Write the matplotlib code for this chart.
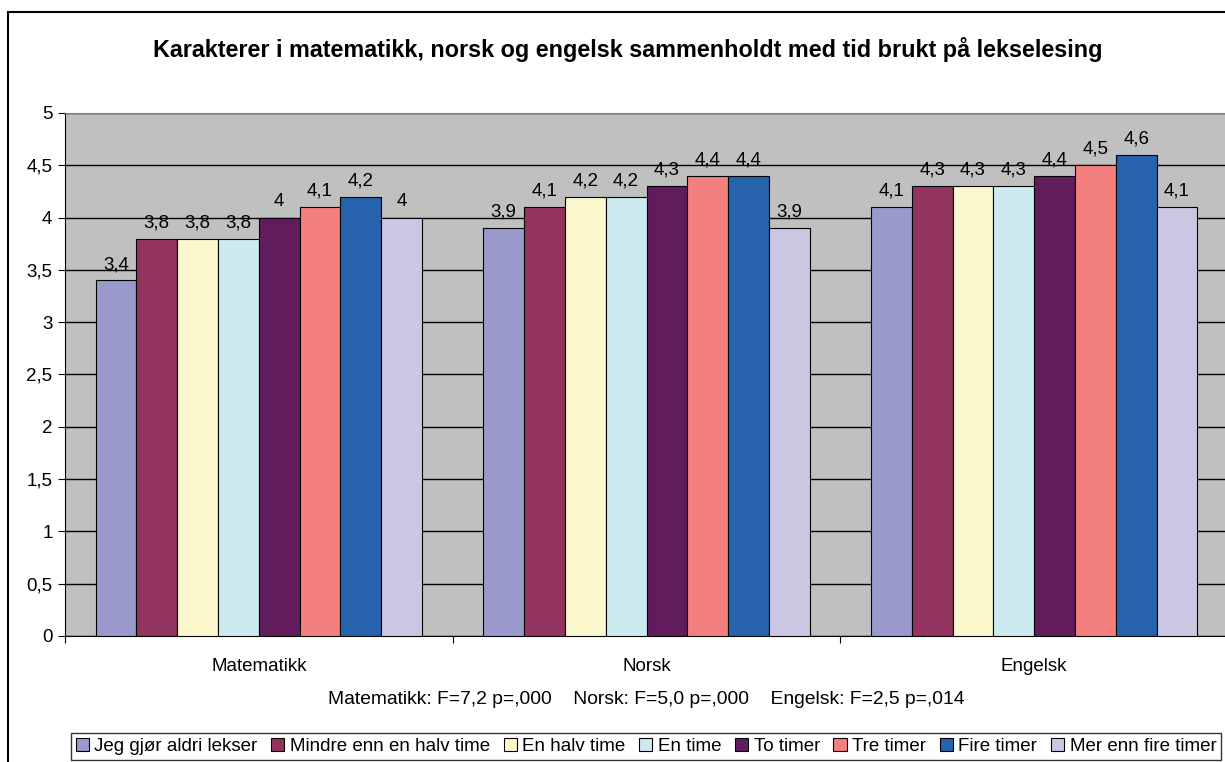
import numpy as np
import matplotlib
matplotlib.use('Agg')
import matplotlib.pyplot as plt
from matplotlib.patches import Rectangle

plt.rcParams['font.family'] = ['Liberation Sans', 'DejaVu Sans']

subjects = ['Matematikk', 'Norsk', 'Engelsk']
series = ['Jeg gjør aldri lekser', 'Mindre enn en halv time', 'En halv time',
          'En time', 'To timer', 'Tre timer', 'Fire timer', 'Mer enn fire timer']
values = [
    [3.4, 3.9, 4.1],
    [3.8, 4.1, 4.3],
    [3.8, 4.2, 4.3],
    [3.8, 4.2, 4.3],
    [4.0, 4.3, 4.4],
    [4.1, 4.4, 4.5],
    [4.2, 4.4, 4.6],
    [4.0, 3.9, 4.1],
]
colors = ['#9999CC', '#933360', '#FAF8CC', '#CDEAF0',
          '#611C5E', '#F47F7F', '#2762AD', '#CBC7E3']
title = 'Karakterer i matematikk, norsk og engelsk sammenholdt med tid brukt på lekselesing'
stats = 'Matematikk: F=7,2 p=,000    Norsk: F=5,0 p=,000    Engelsk: F=2,5 p=,014'
yticks = [0, 0.5, 1, 1.5, 2, 2.5, 3, 3.5, 4, 4.5, 5]


def fmt(v):
    return ('%g' % v).replace('.', ',')


W, H = 1225, 762
fs = 13.5
fig = plt.figure(figsize=(W / 100, H / 100), dpi=100)
ax = fig.add_axes([65 / W, 1 - 636 / H, (1228 - 65) / W, (636 - 113) / H])
ax.set_facecolor('#C0C0C0')

n = len(series)
bw = 1 / (n + 1.5)
x0 = np.arange(len(subjects)) + 0.75 * bw
for i, (name, vals, c) in enumerate(zip(series, values, colors)):
    xs = x0 + i * bw
    ax.bar(xs, vals, width=bw, align='edge', color=c, edgecolor='black',
           linewidth=0.8, label=name, zorder=3)
    for x, v in zip(xs, vals):
        ax.text(x + bw / 2, v + 0.07, fmt(v), ha='center', va='bottom',
                fontsize=fs, zorder=4)

ax.set_xlim(0, len(subjects))
ax.set_ylim(0, 5)
ax.set_yticks(yticks)
ax.set_yticklabels([fmt(t) for t in yticks], fontsize=fs)
ax.yaxis.grid(True, color='black', linewidth=1, zorder=0)
ax.set_axisbelow(True)
ax.set_xticks(np.arange(len(subjects) + 1))
ax.set_xticklabels([])
ax.set_xticks(np.arange(len(subjects)) + 0.5, minor=True)
ax.set_xticklabels(subjects, minor=True, fontsize=fs)
ax.tick_params(axis='x', which='major', length=5, direction='out')
ax.tick_params(axis='x', which='minor', length=0, pad=16)
ax.tick_params(axis='y', length=5, direction='out', pad=4)
ax.spines['top'].set_color('#808080')
ax.spines['right'].set_visible(False)

fig.text(628 / W, 1 - 50 / H, title, ha='center', va='center',
         fontsize=16.8, fontweight='bold')
fig.text(646 / W, 1 - 700 / H, stats, ha='center', va='center', fontsize=13.9)

leg = fig.legend(loc='upper center', bbox_to_anchor=(646 / W, 1 - 733 / H),
                 ncol=n, fontsize=fs, frameon=True, fancybox=False,
                 handlelength=0.7, handleheight=0.7, handletextpad=0.3,
                 columnspacing=0.72, borderpad=0.25, borderaxespad=0)
leg.get_frame().set_edgecolor('black')
leg.get_frame().set_linewidth(1)

fig.patches.append(Rectangle((8 / W, -0.1), 2, 1 - 12 / H + 0.1,
                             transform=fig.transFigure, fill=False,
                             edgecolor='black', linewidth=1.5))

fig.savefig('out.png', dpi=100)
